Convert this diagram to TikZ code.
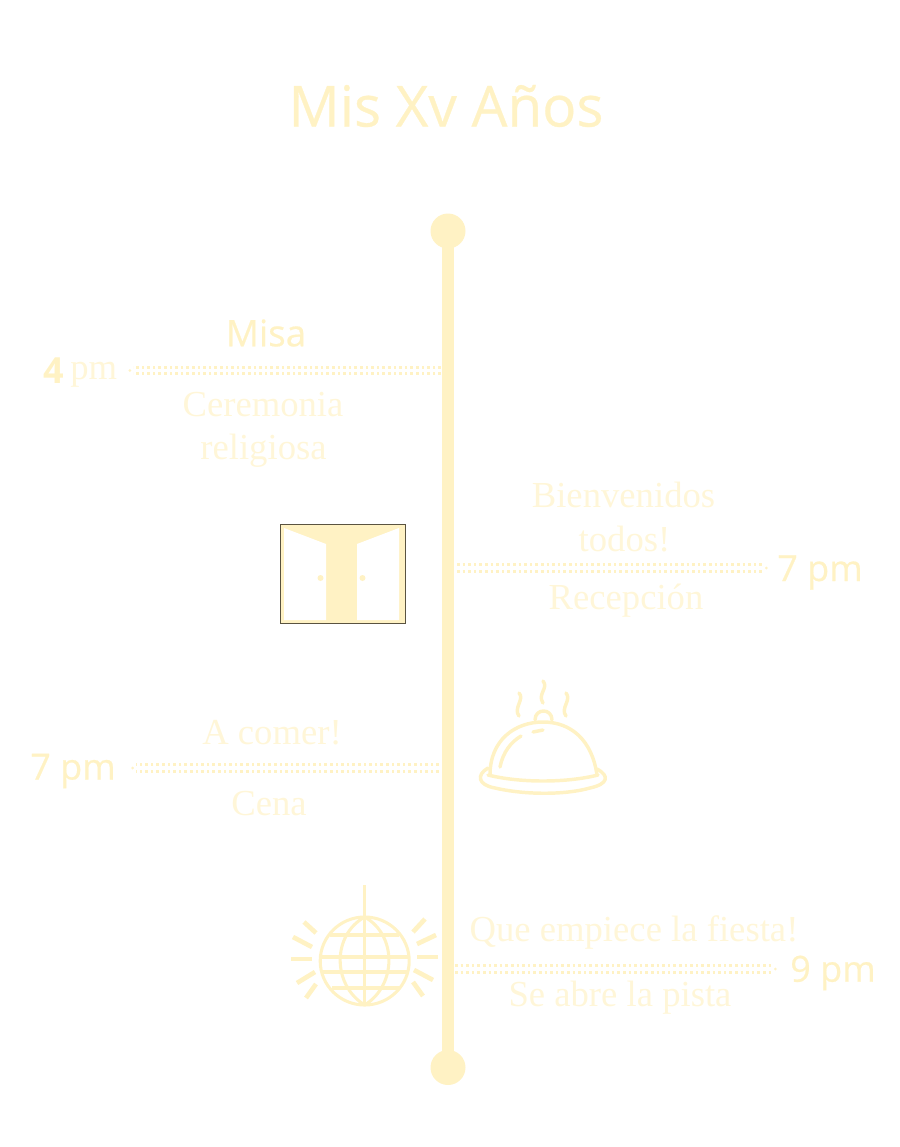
\documentclass[tikz,border=0pt]{standalone}
\usepackage{fontspec}
\setmainfont{Liberation Serif}
\newfontfamily\sansf[FakeBold=0.5]{Open Sans}
\newfontfamily\sansh{Open Sans}
\definecolor{cream}{HTML}{FFF2C4}
\definecolor{creamlight}{HTML}{FFF6D8}
\definecolor{framecol}{HTML}{5A5340}
\tikzset{
  sanslabel/.style={text=cream,inner sep=0pt},
  seriflabel/.style={text=creamlight,inner sep=0pt,align=center,font=\fontsize{27.5}{32}\selectfont},
  endcap/.style={circle,fill=cream,minimum size=26.25pt,inner sep=0pt},
  axisline/.style={draw=cream,line width=8.6pt},
  dotrow/.style={draw=cream,line width=2pt,dash pattern=on 2pt off 2.2pt},
  tipdot/.style={fill=cream},
  icon/.style={draw=cream,line width=2.6pt,line cap=round,line join=round},
  globe/.style={draw=cream,line width=2.3pt},
  ray/.style={draw=cream,line width=3.5pt},
}
\newcommand{\dblarrow}[2]{%
  \draw[dotrow] ([yshift=2.4pt]#1) -- ([yshift=2.4pt]#2);
  \draw[dotrow] ([yshift=-2.4pt]#1) -- ([yshift=-2.4pt]#2);
}
\begin{document}
\begin{tikzpicture}[x=0.75pt,y=-0.75pt]
\useasboundingbox (0,0) rectangle (900,1147);
% title
\node[sanslabel,font=\sansf\fontsize{42.5}{50}\selectfont] (title) at (446,106) {Mis Xv Años};
% axis
\node[endcap] (top) at (448,231) {};
\node[endcap] (bottom) at (448,1067.5) {};
\draw[axisline] (top.center) -- (bottom.center);
% 4 pm
\coordinate (a1) at (441,370.5);
\coordinate (a1e) at (133,370.5);
\dblarrow{a1}{a1e}
\fill[tipdot] ([xshift=-2.4pt]a1e) circle[radius=1.5];
\node[sanslabel,font=\sansh\bfseries\fontsize{27}{32}\selectfont] (four) at (53.5,371) {4};
\node[seriflabel,anchor=base west] (pm) at (70,379) {pm};
\node[sanslabel,font=\sansf\fontsize{27.5}{32}\selectfont] (misa) at (266,333) {Misa};
\node[seriflabel] at (263,404.5) (cer) {Ceremonia};
\node[seriflabel] at (263.5,451) (rel) {religiosa};
% door
\fill[cream] (280,524) rectangle (405,623);
\fill[white] (284,528) -- (326,544) -- (326,620) -- (284,620) -- cycle;
\fill[white] (357,544) -- (399,528) -- (399,620) -- (357,620) -- cycle;
\fill[cream] (320.5,578) circle[radius=3];
\fill[cream] (362.5,578) circle[radius=3];
\draw[framecol,line width=0.7pt] (280,524) rectangle (405,623);
% 7 pm right
\coordinate (a2) at (457,568);
\coordinate (a2e) at (763,568);
\dblarrow{a2}{a2e}
\fill[tipdot] ([xshift=2.6pt]a2e) circle[radius=1.5];
\node[sanslabel,font=\sansf\fontsize{27}{32}\selectfont] (p2) at (820,572.5) {7 pm};
\node[seriflabel] (bien) at (623.5,495) {Bienvenidos};
\node[seriflabel] (tod) at (624.5,539) {todos!};
\node[seriflabel] (rec) at (626,601) {Recepción};
% 7 pm left
\coordinate (a3) at (439,768);
\coordinate (a3e) at (136,768);
\dblarrow{a3}{a3e}
\fill[tipdot] ([xshift=-2.6pt]a3e) circle[radius=1.5];
\node[sanslabel,font=\sansf\fontsize{27}{32}\selectfont] (p3) at (73,771) {7 pm};
\node[seriflabel] (com) at (272,733) {A comer!};
\node[seriflabel] (cena) at (269,804) {Cena};
% cloche
\draw[icon] (519,693) .. controls (525,699) and (513,708) .. (519,716);
\draw[icon] (543,681) .. controls (549,688) and (537,694) .. (543,703);
\draw[icon] (566,693) .. controls (572,700) and (560,708) .. (566,716);
\draw[icon] (535,720) .. controls (535,708) and (552,708) .. (552,720);
\draw[icon] (490,775) .. controls (490,740) and (515,722) .. (543,722) .. controls (571,722) and (592,740) .. (597,775);
\draw[icon] (488,775) .. controls (520,783) and (566,783) .. (598,775);
\draw[icon] (488,768) .. controls (476,775) and (478,785) .. (495,788) .. controls (525,795) and (565,795) .. (590,788) .. controls (608,784) and (610,776) .. (597,769);
\draw[icon] (500,767) .. controls (503,752) and (511,742) .. (521,736);
\draw[icon] (533,732) -- (543,730);
% 9 pm
\coordinate (a4) at (455,969);
\coordinate (a4e) at (772,969);
\dblarrow{a4}{a4e}
\fill[tipdot] ([xshift=2.6pt]a4e) circle[radius=1.5];
\node[sanslabel,font=\sansf\fontsize{27}{32}\selectfont] (p4) at (833,973) {9 pm};
\node[seriflabel] (que) at (634,932) {Que empiece la fiesta!};
\node[seriflabel] (pis) at (620,998) {Se abre la pista};
% disco ball
\draw[globe] (364.7,885) -- (364.7,1005);
\draw[globe] (364.7,961) ellipse[x radius=44.5,y radius=44];
\draw[globe] (364.7,917) .. controls (332,935) and (332,985) .. (364.7,1005);
\draw[globe] (364.7,917) .. controls (397,935) and (397,985) .. (364.7,1005);
\draw[globe] (330,935) -- (399,935);
\draw[globe] (320.7,957) -- (409,957);
\draw[globe] (322,972) -- (408,972);
\draw[globe] (332,988) -- (399,988);
\foreach \xa/\ya/\xb/\yb in {304/922/316/933,293/937/312/947,291/959/312/959,297/983/315/972,306/998/316/984,
  425/919/413/932,436/935/417/944,438/957/417/957,433/980/414/970,423/996/413/982}
  \draw[ray] (\xa,\ya) -- (\xb,\yb);
\end{tikzpicture}
\end{document}
